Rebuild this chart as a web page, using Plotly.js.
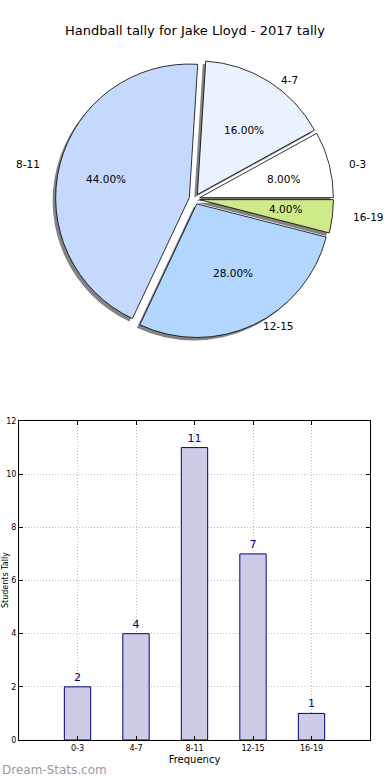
<!DOCTYPE html>
<html>
<head>
<meta charset="utf-8">
<script src="https://cdn.plot.ly/plotly-3.0.1.min.js"></script>
<style>html,body{margin:0;padding:0;background:#fff;}#chart{width:390px;height:780px;}</style>
</head>
<body>
<div id="chart"></div>
<script>
const categories = ["0-3", "4-7", "8-11", "12-15", "16-19"];
const counts = [2, 4, 11, 7, 1];
const sliceColors = ["#ffffff", "#eaf1ff", "#c5d9ff", "#b3d6ff", "#cfea88"];
const titleText = "Handball tally for Jake Lloyd - 2017 tally";
const xTitle = "Frequency";
const yTitle = "Students Tally";
const watermark = "Dream-Stats.com";

const W = 390, H = 780;
const mL = 19, mR = 20, mT = 0, mB = 40;
const pw = W - mL - mR, ph = H - mT - mB;
function px2x(p){ return (p - mL) / pw; }
function py2y(p){ return (H - mB - p) / ph; }

const pullAmt = 0.04;
const pulls = categories.map(() => pullAmt);
const pieRotation = 61.2;
const pieDomain = {x: [px2x(55), px2x(334)], y: [py2y(338), py2y(60)]};
const shadowDomain = {x: [px2x(52), px2x(331)], y: [py2y(341), py2y(63)]};

const font = "DejaVu Sans, sans-serif";

const shadow = {
  type: "pie", labels: categories, values: counts, sort: false,
  direction: "counterclockwise", rotation: pieRotation, pull: pulls,
  domain: shadowDomain,
  marker: {colors: categories.map(() => "rgba(90,90,90,0.75)"), line: {width: 0}},
  textinfo: "none", hoverinfo: "skip", showlegend: false
};
const pie = {
  type: "pie", labels: categories, values: counts, sort: false,
  direction: "counterclockwise", rotation: pieRotation, pull: pulls,
  domain: pieDomain,
  marker: {colors: sliceColors, line: {color: "#000000", width: 0.8}},
  textinfo: "none",
  hoverinfo: "skip", showlegend: false
};
const bars = {
  type: "bar", x: categories, y: counts, width: 0.45,
  marker: {color: "#ccccE6", line: {color: "#000080", width: 1}},
  text: counts.map(String), textposition: "outside",
  textfont: {family: font, size: 11, color: "#000080"},
  cliponaxis: false, hoverinfo: "skip", showlegend: false
};

// pie text placement (matplotlib-style: labels at 1.1 r, percentages at 0.6 r)
const cx = 194.5, cy = 199, rx = 143, ry = 128;
const total = counts.reduce((a, b) => a + b, 0);
const pieTexts = [];
let cum = 0;
counts.forEach((v, i) => {
  const mid = (cum + v / 2) / total * 2 * Math.PI;
  cum += v;
  const c = Math.cos(mid), s = Math.sin(mid);
  const lx = cx + 1.1 * rx * c, ly = cy - 1.1 * ry * s;
  pieTexts.push({text: categories[i], xref: "paper", yref: "paper",
    x: px2x(lx), y: py2y(ly), xanchor: c >= 0 ? "left" : "right", yanchor: "middle",
    showarrow: false, font: {family: font, size: 10.5, color: "#000000"}});
  const d = 0.6 + pullAmt;
  const tx = cx + d * rx * c, ty = cy - d * ry * s;
  pieTexts.push({text: (v / total * 100).toFixed(2) + "%", xref: "paper", yref: "paper",
    x: px2x(tx), y: py2y(ty), xanchor: "center", yanchor: "middle",
    showarrow: false, font: {family: font, size: 10.5, color: "#000000"}});
});

const layout = {
  width: W, height: H,
  margin: {l: mL, r: mR, t: mT, b: mB},
  paper_bgcolor: "#ffffff", plot_bgcolor: "#ffffff",
  font: {family: font, color: "#000000"},
  showlegend: false,
  xaxis: {
    domain: [0, 1], range: [-1, 5], type: "category",
    showline: true, linecolor: "#000000", linewidth: 1, mirror: "ticks",
    ticks: "inside", ticklen: 4, tickcolor: "#000000",
    showgrid: true, gridcolor: "#c0c0c0", griddash: "1px,2px", gridwidth: 1,
    tickfont: {family: font, size: 8, color: "#000000"},
    title: {text: xTitle, font: {family: font, size: 10}, standoff: 4},
    zeroline: false
  },
  yaxis: {
    domain: [0, py2y(421)], range: [0, 12], dtick: 2,
    showline: true, linecolor: "#000000", linewidth: 1, mirror: "ticks",
    ticks: "inside", ticklen: 4, tickcolor: "#000000",
    showgrid: true, gridcolor: "#c0c0c0", griddash: "1px,2px", gridwidth: 1,
    tickfont: {family: font, size: 8, color: "#000000"},
    zeroline: false
  },
  annotations: [
    {text: titleText, xref: "paper", yref: "paper", x: 0.5, y: py2y(30),
     xanchor: "center", yanchor: "middle", showarrow: false,
     font: {family: font, size: 13, color: "#000000"}},
    {text: yTitle, xref: "paper", yref: "paper", x: px2x(5), y: py2y(580),
     xanchor: "center", yanchor: "middle", textangle: -90, showarrow: false,
     font: {family: font, size: 8, color: "#000000"}},
    {text: watermark, xref: "paper", yref: "paper", x: px2x(0), y: py2y(770),
     xanchor: "left", yanchor: "middle", showarrow: false,
     font: {family: font, size: 12, color: "#9a9a9a"}}
  ].concat(pieTexts)
};

Plotly.newPlot("chart", [shadow, pie, bars], layout, {staticPlot: true, displayModeBar: false});
</script>
</body>
</html>
